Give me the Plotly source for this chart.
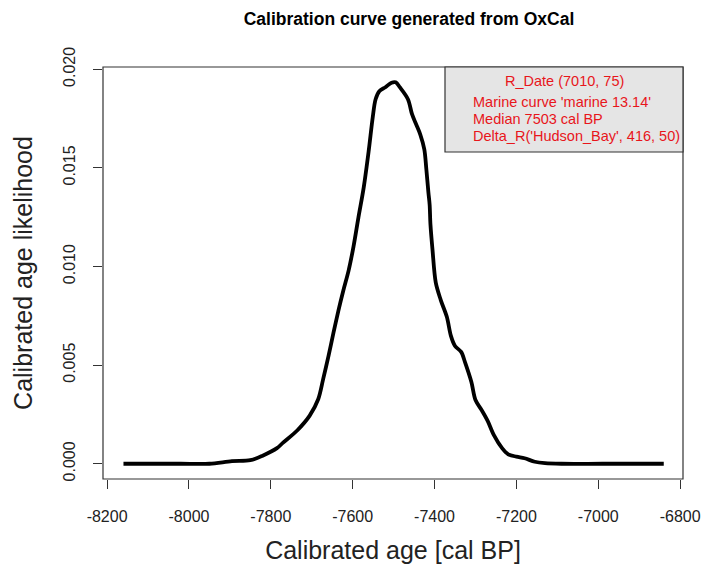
import plotly.graph_objects as go

# Calibrated age (cal BP, negative) and likelihood
age = [-8160, -8100, -8020, -7950, -7895, -7850, -7820, -7785, -7770, -7735,
       -7705, -7684, -7672, -7659, -7647, -7635, -7623, -7610, -7598, -7586,
       -7573, -7561, -7551, -7544, -7535, -7520, -7505, -7495, -7485,
       -7465, -7455, -7445, -7435, -7425, -7420, -7415, -7412, -7410, -7405,
       -7397, -7385, -7370, -7360, -7350, -7335, -7325, -7310, -7300, -7285,
       -7270, -7255, -7235, -7220, -7200, -7180, -7155, -7130, -7090, -6990,
       -6840]
likelihood = [0.0, 0.0, 0.0, 0.0, 0.00013, 0.00018, 0.00041, 0.00079, 0.00107, 0.00170,
              0.00244, 0.00328, 0.00430, 0.00547, 0.00663, 0.00775, 0.00877, 0.00979, 0.01101, 0.01248,
              0.01401, 0.01584, 0.01757, 0.01848, 0.01889, 0.01909, 0.01932, 0.01934, 0.01909,
              0.01848, 0.01772, 0.01721, 0.01670, 0.01594, 0.01492, 0.01375, 0.01314, 0.01213, 0.01085,
              0.00918, 0.00831, 0.00745, 0.00648, 0.00597, 0.00567, 0.00511, 0.00414, 0.00323, 0.00272,
              0.00216, 0.00145, 0.00079, 0.00048, 0.00036, 0.00028, 0.00010, 0.00003, 0.0, 0.0,
              0.0]

x_ticks = [-8200, -8000, -7800, -7600, -7400, -7200, -7000, -6800]
x_tick_text = ["-8200", "-8000", "-7800", "-7600", "-7400", "-7200", "-7000", "-6800"]
y_ticks = [0.000, 0.005, 0.010, 0.015, 0.020]
y_tick_text = ["0.000", "0.005", "0.010", "0.015", "0.020"]
x_range = [-8210, -6793]

legend_title = "R_Date (7010, 75)"
legend_lines = ["Marine curve 'marine 13.14'", "Median 7503 cal BP",
                "Delta_R('Hudson_Bay', 416, 50)"]

FONT = "Liberation Sans, Arial, Helvetica, sans-serif"
RED = "#e8151b"

fig = go.Figure()
fig.add_trace(go.Scatter(x=age, y=likelihood, mode="lines",
                         line=dict(color="black", width=3.8, shape="spline", smoothing=0.9),
                         hoverinfo="skip", showlegend=False))

yr = (min(likelihood), max(likelihood))
ypad = (yr[1] - yr[0]) * 0.04

L, R, T, B = 103, 20, 67, 91

fig.update_layout(
    width=703, height=570,
    margin=dict(l=L, r=R, t=T, b=B),
    paper_bgcolor="white", plot_bgcolor="white",
    font=dict(family=FONT, color="black"),
    title=dict(text="<b>Calibration curve generated from OxCal</b>",
               x=409 / 703, xref="container", xanchor="center",
               y=1 - 19 / 570, yref="container", yanchor="middle",
               font=dict(size=17.5, family=FONT, color="black")),
    xaxis=dict(range=x_range, tickvals=x_ticks, ticktext=x_tick_text, automargin=False,
               showgrid=False, zeroline=False, showline=False,
               ticks="outside", ticklen=9, tickwidth=1, tickcolor="#333",
               ticklabelstandoff=14,
               tickfont=dict(size=16, color="#222"),
               title=dict(text="Calibrated age [cal BP]", font=dict(size=25, color="#222"),
                          standoff=17)),
    yaxis=dict(range=[yr[0] - ypad, yr[1] + ypad], tickvals=y_ticks, ticktext=y_tick_text,
               automargin=False,
               showgrid=False, zeroline=False, showline=False,
               ticks="outside", ticklen=9, tickwidth=1, tickcolor="#333",
               tickangle=-90, ticklabelstandoff=12,
               tickfont=dict(size=16, color="#222"),
               title=dict(text="Calibrated age likelihood", font=dict(size=25, color="#222"),
                          standoff=20)),
)

# plot box
fig.add_shape(type="rect", xref="paper", yref="paper", x0=0, x1=1, y0=0, y1=1,
              line=dict(color="#333", width=1.2), fillcolor="rgba(0,0,0,0)", layer="above")

PW = 703 - L - R
PH = 570 - T - B

# legend box (top-right)
fig.add_shape(type="rect", xref="paper", yref="paper", x0=(445 - L) / PW, x1=1,
              y0=(570 - B - 152) / PH, y1=1,
              line=dict(color="#333", width=1.2), fillcolor="#e5e5e5", layer="above")
fig.add_annotation(text=legend_title, xref="paper", yref="paper",
                   x=(564 - L) / PW, y=(570 - B - 81) / PH, xanchor="center", yanchor="middle",
                   showarrow=False, font=dict(size=14.5, color=RED, family=FONT))
for txt, py in zip(legend_lines, [102, 119, 136]):
    fig.add_annotation(text=txt, xref="paper", yref="paper",
                       x=(471 - L) / PW, y=(570 - B - py) / PH, xanchor="left", yanchor="middle",
                       showarrow=False, font=dict(size=14.5, color=RED, family=FONT))

fig.write_html("out.html")
